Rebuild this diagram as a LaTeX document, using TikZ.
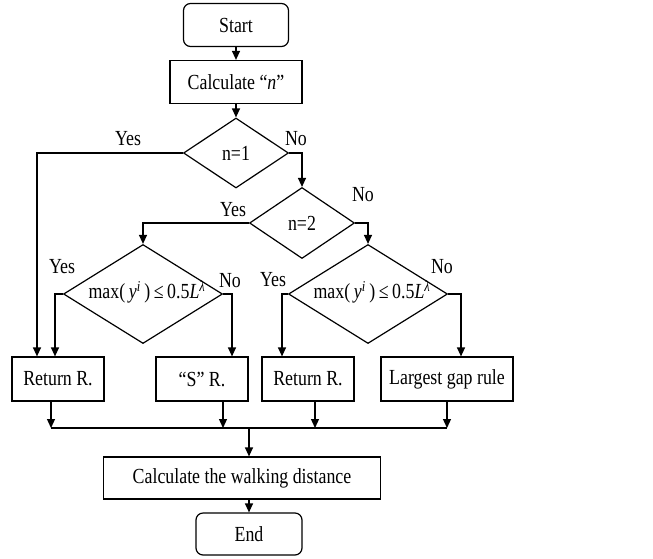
\documentclass[tikz,border=0pt]{standalone}
\usepackage{fontspec}
\setmainfont{Liberation Serif}[FakeStretch=0.83]
\usetikzlibrary{arrows.meta,shapes.geometric}
\begin{document}
\begin{tikzpicture}[x=1pt,y=-1pt,
  every node/.style={font=\fontsize{21.5}{24}\selectfont},
  ln/.style={line width=1.2pt},
  arr/.style={ln,-{Triangle[length=9pt,width=8pt]}},
  term/.style={draw,ln,rounded corners=7pt,minimum width=105pt,minimum height=43pt,inner sep=0pt},
  proc/.style={draw,ln,minimum height=44pt,inner sep=0pt},
  dia/.style={draw,ln,diamond,inner sep=0pt},
  lab/.style={inner sep=0pt}]
\useasboundingbox (0,0) rectangle (653,558);
\node[term] (start) at (236,25) {Start};
\node[proc,minimum width=132pt,minimum height=43pt] (calc) at (236,82) {Calculate “\textit{n}”};
\node[dia,minimum width=105pt,minimum height=70pt] (d1) at (236,153) {};
\node[lab] (t1) at (236,153) {n=1};
\node[dia,minimum width=105pt,minimum height=71pt] (d2) at (302,223) {};
\node[lab] (t2) at (302,223) {n=2};
\node[dia,minimum width=159pt,minimum height=99pt] (d3) at (143,294) {};
\node[lab] (t3) at (147,292) {max(\,\textit{y}\textsuperscript{\textit{i}}\,)\,≤\,0.5\textit{L}\textsuperscript{\textit{λ}}};
\node[dia,minimum width=159pt,minimum height=99pt] (d4) at (368,294) {};
\node[lab] (t4) at (372,292) {max(\,\textit{y}\textsuperscript{\textit{i}}\,)\,≤\,0.5\textit{L}\textsuperscript{\textit{λ}}};
\node[proc,minimum width=92pt] (ret1) at (58,379) {Return R.};
\node[proc,minimum width=92pt] (sr) at (202,379) {“S” R.};
\node[proc,minimum width=92pt] (ret2) at (308,379) {Return R.};
\node[proc,minimum width=132pt] (lg) at (447,379) {Largest gap rule};
\node[proc,minimum width=277pt,minimum height=42pt] (walk) at (242,478) {Calculate the walking distance};
\node[term,minimum width=106pt,minimum height=42pt] (end) at (249,534) {End};
% labels
\node[lab] (y1) at (128,139) {Yes};
\node[lab] (n1) at (296,139) {No};
\node[lab] (n2) at (363,195) {No};
\node[lab] (y2) at (233,210) {Yes};
\node[lab] (y3) at (62,267) {Yes};
\node[lab] (n3) at (230,281) {No};
\node[lab] (y4) at (273,280) {Yes};
\node[lab] (n4) at (442,267) {No};
% connectors
\draw[arr] (start) -- (calc);
\draw[arr] (calc) -- (d1);
\draw[arr] (d1.west) -| ([xshift=-21pt]ret1.north);
\draw[arr] (d1.east) -| (d2.north);
\draw[arr] (d2.west) -| (d3.north);
\draw[arr] (d2.east) -| (d4.north);
\draw[arr] (d3.west) -| ([xshift=-3pt]ret1.north);
\draw[arr] (d3.east) -| ([xshift=30pt]sr.north);
\draw[arr] (d4.west) -| ([xshift=-26pt]ret2.north);
\draw[arr] (d4.east) -| ([xshift=14pt]lg.north);
\coordinate (b1) at (51,428);
\coordinate (b2) at (223,428);
\coordinate (b3) at (315,428);
\coordinate (b4) at (447,428);
\coordinate (bm) at (249,428);
\draw[arr] ([xshift=-7pt]ret1.south) -- (b1);
\draw[arr] ([xshift=21pt]sr.south) -- (b2);
\draw[arr] ([xshift=7pt]ret2.south) -- (b3);
\draw[arr] (lg.south) -- (b4);
\draw[ln] (b1) -- (b4);
\draw[arr] (bm) -- ([xshift=7pt]walk.north);
\draw[arr] ([xshift=7pt]walk.south) -- (end);
\end{tikzpicture}
\end{document}
